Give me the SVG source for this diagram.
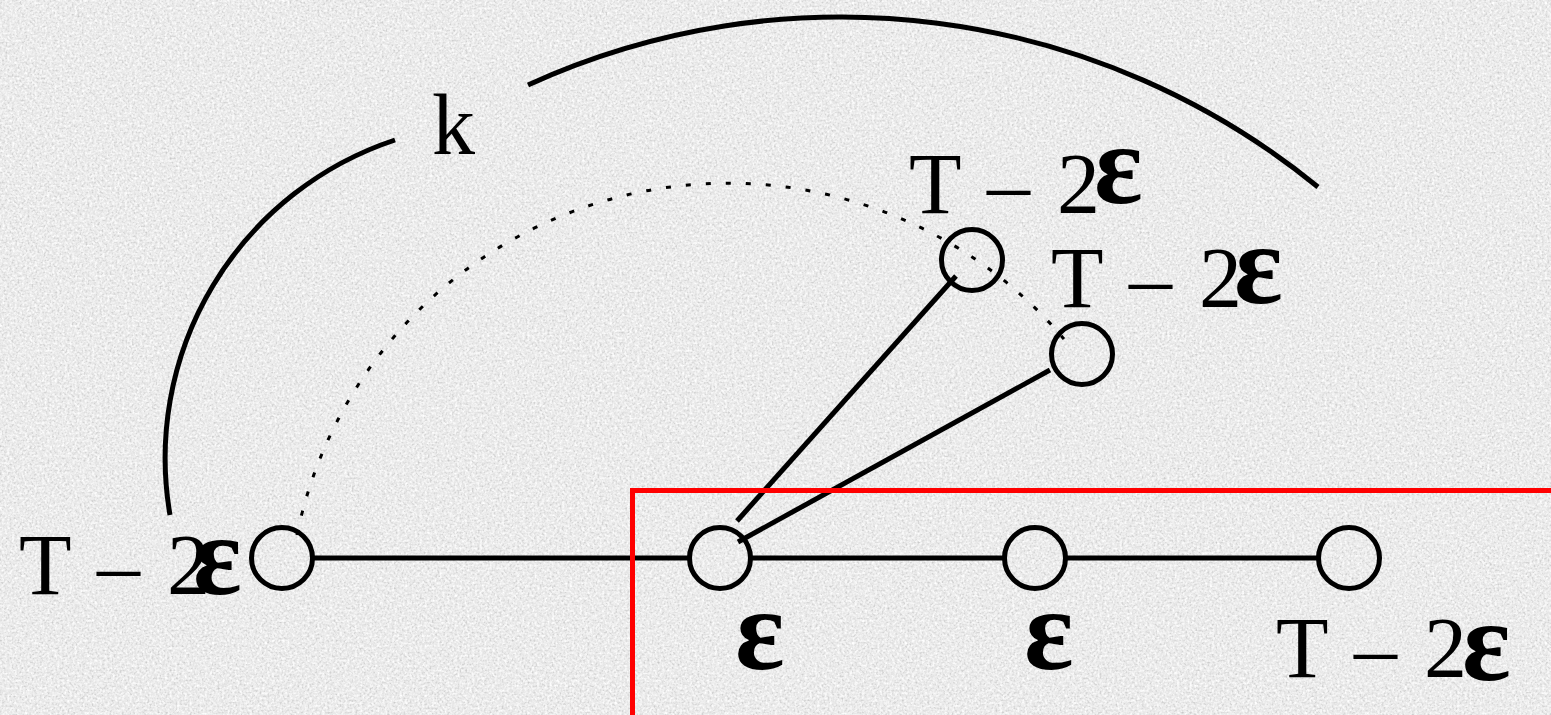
<svg xmlns="http://www.w3.org/2000/svg" width="1551" height="715" viewBox="0 0 1551 715">
  <defs>
    <filter id="grain" x="0" y="0" width="100%" height="100%">
      <feTurbulence type="fractalNoise" baseFrequency="0.5" numOctaves="2" seed="7" result="n"/>
      <feColorMatrix in="n" type="matrix" values="0 0 0 0 0.55  0 0 0 0 0.55  0 0 0 0 0.55  2.2 0 0 0 -1.0"/>
    </filter>
    <filter id="grain2" x="0" y="0" width="100%" height="100%">
      <feTurbulence type="fractalNoise" baseFrequency="0.4" numOctaves="2" seed="19" result="n"/>
      <feColorMatrix in="n" type="matrix" values="0 0 0 0 1  0 0 0 0 1  0 0 0 0 1  2.2 0 0 0 -0.85"/>
    </filter>
  </defs>
  <style>
    .node { fill: none; stroke: #000; stroke-width: 5; }
    .edge { fill: none; stroke: #000; stroke-width: 5; }
    .dot { fill: none; stroke: #000; stroke-width: 3; stroke-dasharray: 5 15; }
    .lbl { font-family: "Liberation Serif", "Times New Roman", serif; font-size: 86px; fill: #000; }
    .eps { font-size: 114px; font-weight: bold; }
    .epsb { font-family: "Liberation Serif", "Times New Roman", serif; font-size: 116px; font-weight: bold; fill: #000; }
  </style>
  <rect width="1551" height="715" fill="#e9e9e9"/>
  <rect width="1551" height="715" filter="url(#grain)"/>
  <rect width="1551" height="715" filter="url(#grain2)"/>

  <g id="connectors">
    <path class="edge" d="M312.5,558 H689.5 M750.5,558 H1004.5 M1065.5,558 H1318.5"/>
    <path class="edge" d="M737,521 L956,276"/>
    <path class="edge" d="M738,542 L1050,370"/>
    <path class="dot" d="M297,535 A440,440 0 0 1 1064,339"/>
    <path class="edge" d="M170,515 A335,335 0 0 1 395,140"/>
    <path class="edge" d="M528,85 A754,754 0 0 1 1318,187"/>
  </g>

  <g id="region">
    <path d="M632.5,720 V490.5 H1560" fill="none" stroke="#ff0000" stroke-width="5"/>
  </g>

  <g id="node-left">
    <circle class="node" cx="282" cy="558" r="30.5"/>
    <text class="lbl" y="594"><tspan x="19">T</tspan><tspan x="97">–</tspan><tspan x="167">2</tspan><tspan class="eps" x="193">ε</tspan></text>
  </g>
  <g id="node-eps1">
    <circle class="node" cx="720" cy="558" r="30.5"/>
    <text class="epsb" x="735" y="669">ε</text>
  </g>
  <g id="node-eps2">
    <circle class="node" cx="1035" cy="558" r="30.5"/>
    <text class="epsb" x="1024" y="669">ε</text>
  </g>
  <g id="node-right">
    <circle class="node" cx="1349" cy="558" r="30.5"/>
    <text class="lbl" y="677"><tspan x="1276">T</tspan><tspan x="1354">–</tspan><tspan x="1424">2</tspan><tspan class="eps" x="1462" y="680">ε</tspan></text>
  </g>
  <g id="node-top">
    <circle class="node" cx="972" cy="260" r="30.5"/>
    <text class="lbl" y="213"><tspan x="909">T</tspan><tspan x="987">–</tspan><tspan x="1057">2</tspan><tspan class="eps" x="1094" y="203">ε</tspan></text>
  </g>
  <g id="node-mid">
    <circle class="node" cx="1082" cy="354" r="30.5"/>
    <text class="lbl" y="307"><tspan x="1051">T</tspan><tspan x="1129">–</tspan><tspan x="1199">2</tspan><tspan class="eps" x="1234" y="303">ε</tspan></text>
  </g>
  <g id="label-k">
    <text class="lbl" x="432" y="154">k</text>
  </g>
</svg>
